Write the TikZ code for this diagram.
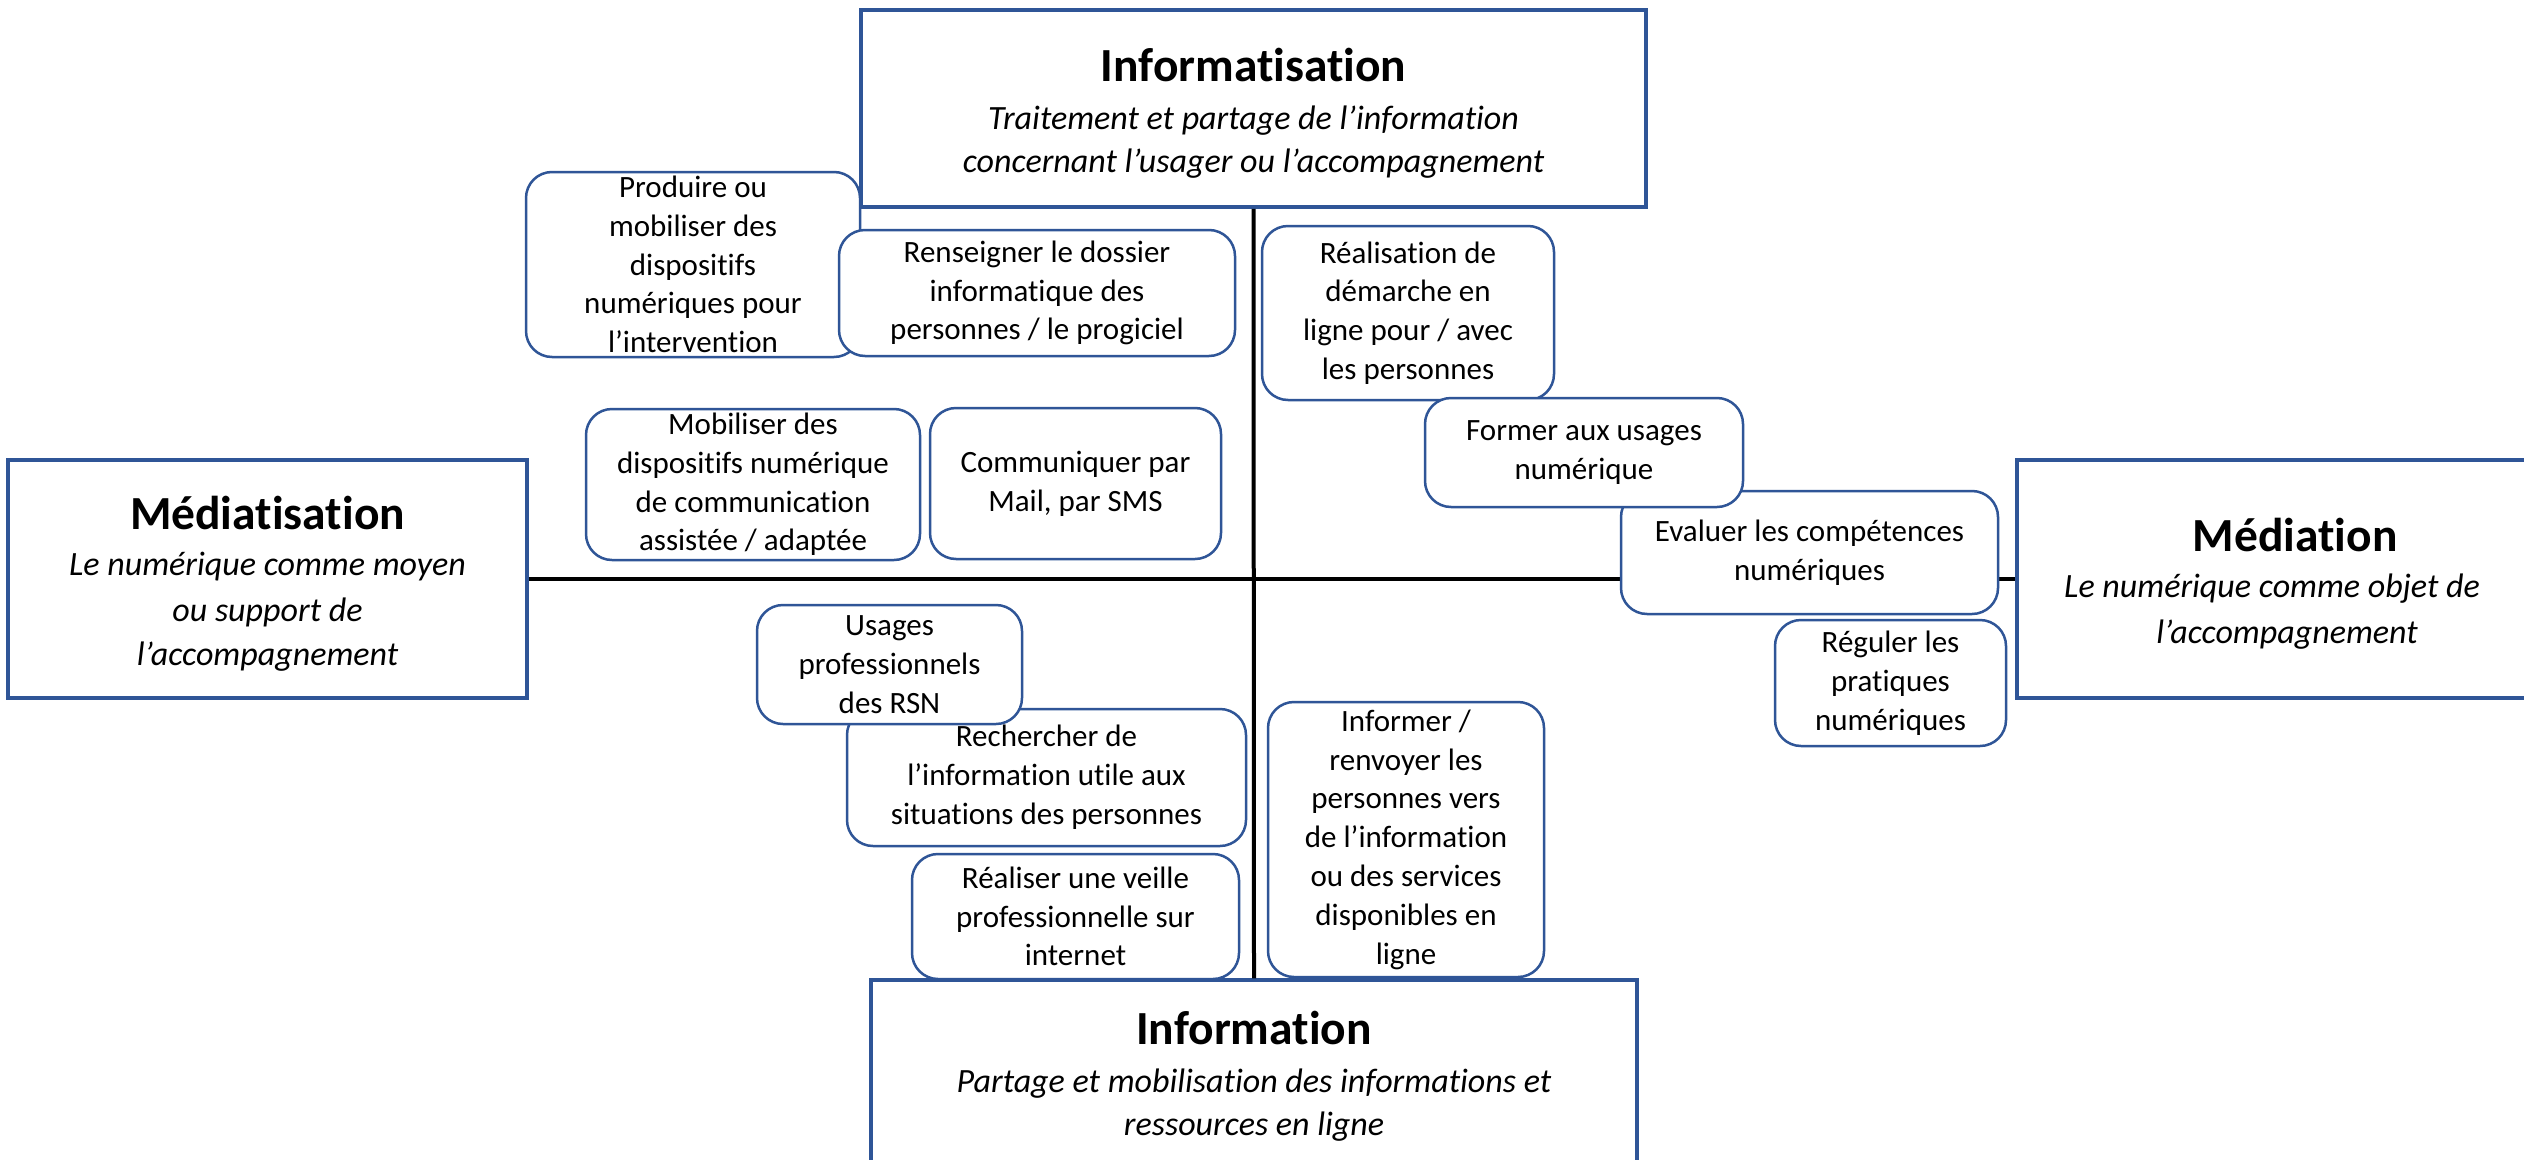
\documentclass[tikz,border=0pt]{standalone}
\usepackage{fontspec}
\setmainfont{Carlito}[Ligatures=NoCommon]
\definecolor{boxblue}{HTML}{2F5597}
\newcommand\mybox[6]{\node[smallbox, minimum width={#4-#2}, minimum height={#5-#3}] (#1) at ({(#2+#4)/2},{(#3+#5)/2}) {#6};}
\begin{document}
\begin{tikzpicture}[x=1pt,y=-1pt,
  smallbox/.style={draw=boxblue, line width=2.5pt, rounded corners=26pt, fill=white, align=center, inner sep=0pt, font=\fontsize{31}{38.8}\selectfont},
  bigbox/.style={draw=boxblue, line width=3.5pt, fill=white, inner sep=0pt},
  ttl/.style={font=\fontsize{47.5}{55}\selectfont\bfseries, anchor=base, inner sep=0pt},
  sub/.style={font=\fontsize{34}{44}\selectfont\itshape, anchor=base, inner sep=0pt},
  axis/.style={line width=4pt, black}]
\useasboundingbox (0,0) rectangle (2524,1159);
\fill[white] (0,0) rectangle (2524,1159);
% big boxes
\node[bigbox, minimum width=785, minimum height=197] (informatisation) at (1253.5,108.5) {};
\node[bigbox, minimum width=519, minimum height=238] (mediatisation) at (267.5,579) {};
\node[bigbox, minimum width=546, minimum height=238] (mediation) at (2290,579) {};
\node[bigbox, minimum width=766, minimum height=200] (information) at (1254,1080) {};
% axes
\draw[axis] (informatisation.south) -- (information.north);
\draw[axis] (mediatisation.east) -- (mediation.west);
% titles
\node[ttl] (t1) at (1253.5,81) {Informatisation};
\node[sub] (s1a) at (1253.5,129) {Traitement et partage de l’information};
\node[sub] (s1b) at (1253.5,172) {concernant l’usager ou l’accompagnement};
\node[ttl] (t2) at (267.5,529) {Médiatisation};
\node[sub] (s2a) at (267.5,575) {Le numérique comme moyen};
\node[sub] (s2b) at (267.5,621) {ou support de};
\node[sub] (s2c) at (267.5,665) {l’accompagnement};
\node[ttl] (t3) at (2295,551) {Médiation};
\node[sub] (s3a) at (2272,597) {Le numérique comme objet de};
\node[sub] (s3b) at (2287,643) {l’accompagnement};
\node[ttl] (t4) at (1254,1044) {Information};
\node[sub] (s4a) at (1254,1092) {Partage et mobilisation des informations et};
\node[sub] (s4b) at (1254,1135) {ressources en ligne};
% small boxes
\mybox{produire}{526}{172}{860}{357}{Produire ou\\mobiliser des\\dispositifs\\numériques pour\\l’intervention}
\mybox{renseigner}{839}{230}{1235}{356}{Renseigner le dossier\\informatique des\\personnes / le progiciel}
\mybox{mobiliser}{586}{409}{920}{560}{Mobiliser des\\dispositifs numérique\\de communication\\assistée / adaptée}
\mybox{communiquer}{930}{408}{1221}{559}{Communiquer par\\Mail, par SMS}
\mybox{realisation}{1262}{226}{1554}{400}{Réalisation de\\démarche en\\ligne pour / avec\\les personnes}
\mybox{evaluer}{1621}{491}{1998}{614}{Evaluer les compétences\\numériques}
\mybox{former}{1425}{398}{1743}{507}{Former aux usages\\numérique}
\mybox{reguler}{1775}{620}{2006}{746}{Réguler les\\pratiques\\numériques}
\mybox{rechercher}{847}{709}{1246}{846}{Rechercher de\\l’information utile aux\\situations des personnes}
\mybox{usages}{757}{605}{1022}{724}{Usages\\professionnels\\des RSN}
\mybox{veille}{912}{854}{1239}{979}{Réaliser une veille\\professionnelle sur\\internet}
\mybox{informer}{1268}{702}{1544}{977}{Informer /\\renvoyer les\\personnes vers\\de l’information\\ou des services\\disponibles en\\ligne}
\end{tikzpicture}
\end{document}
